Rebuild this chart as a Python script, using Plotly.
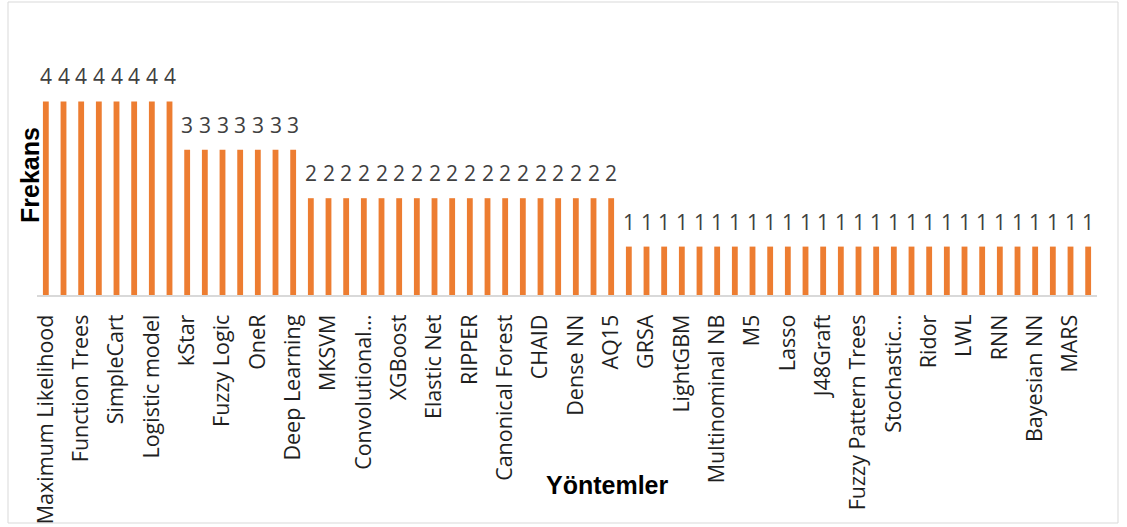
import plotly.graph_objects as go

# Frequency of each method (59 bars; only every other bar is labelled on the axis)
values = [4, 4, 4, 4, 4, 4, 4, 4,
          3, 3, 3, 3, 3, 3, 3,
          2, 2, 2, 2, 2, 2, 2, 2, 2, 2, 2, 2, 2, 2, 2, 2, 2, 2,
          1, 1, 1, 1, 1, 1, 1, 1, 1, 1, 1, 1, 1, 1, 1, 1, 1, 1, 1, 1, 1, 1, 1, 1, 1, 1, 1]

# Visible tick labels (shown on every second bar, starting with the first)
tick_labels = ["Maximum Likelihood", "Function Trees", "SimpleCart", "Logistic model",
               "kStar", "Fuzzy Logic", "OneR", "Deep Learning", "MKSVM",
               "Convolutional…", "XGBoost", "Elastic Net", "RIPPER", "Canonical Forest",
               "CHAID", "Dense NN", "AQ15", "GRSA", "LightGBM", "Multinominal NB", "M5",
               "Lasso", "J48Graft", "Fuzzy Pattern Trees", "Stochastic…", "Ridor", "LWL",
               "RNN", "Bayesian NN", "MARS"]

x_pos = list(range(len(values)))
tick_pos = x_pos[::2]

BAR = "#ED7D31"

fig = go.Figure()
fig.add_trace(go.Bar(
    x=x_pos, y=values,
    marker=dict(color=BAR, line=dict(width=0)),
    hoverinfo="x+y",
))

annotations = []
for xi, v in zip(x_pos, values):
    annotations.append(dict(
        x=xi, y=v, xref="x", yref="y", text=str(v), showarrow=False,
        yanchor="middle", yshift=25,
        font=dict(family="Open Sans", size=21, color="#404040"),
    ))

annotations.append(dict(
    text="<b>Frekans</b>", xref="paper", yref="paper",
    x=(30 - 37) / 1060, y=(295 - 175) / 242, textangle=-90,
    showarrow=False, xanchor="center", yanchor="middle",
    font=dict(family="Liberation Sans, Arial", size=25, color="#000000"),
))
annotations.append(dict(
    text="<b>Yöntemler</b>", xref="paper", yref="paper",
    x=(607 - 37) / 1060, y=(295 - 485) / 242,
    showarrow=False, xanchor="center", yanchor="middle",
    font=dict(family="Liberation Sans, Arial", size=25, color="#000000"),
))

fig.update_layout(
    width=1127, height=527, autosize=False,
    margin=dict(l=37, r=30, t=53, b=232, pad=0, autoexpand=False),
    paper_bgcolor="white", plot_bgcolor="white",
    bargap=0.67,
    showlegend=False,
    annotations=annotations,
    shapes=[dict(
        type="rect", xref="paper", yref="paper",
        x0=(8 - 37) / 1060, x1=(1118 - 37) / 1060,
        y0=(295 - 523) / 242, y1=(295 - 2) / 242,
        line=dict(color="#D9D9D9", width=1), fillcolor="rgba(0,0,0,0)", layer="below",
    )],
    xaxis=dict(
        range=[-0.5, len(values) - 0.5], automargin=False,
        tickmode="array", tickvals=tick_pos, ticktext=tick_labels,
        tickangle=-90, ticks="", ticklabelstandoff=9,
        tickfont=dict(family="Open Sans", size=21.5, color="#1F1F1F"),
        showline=True, linecolor="#D9D9D9", linewidth=2,
        showgrid=False, zeroline=False, fixedrange=True,
    ),
    yaxis=dict(
        range=[0, 5], visible=False, automargin=False,
        showgrid=False, zeroline=False, fixedrange=True,
    ),
)

fig.write_html("out.html",
               config={"responsive": False, "displayModeBar": False},
               post_script="document.body.style.margin='0';")
